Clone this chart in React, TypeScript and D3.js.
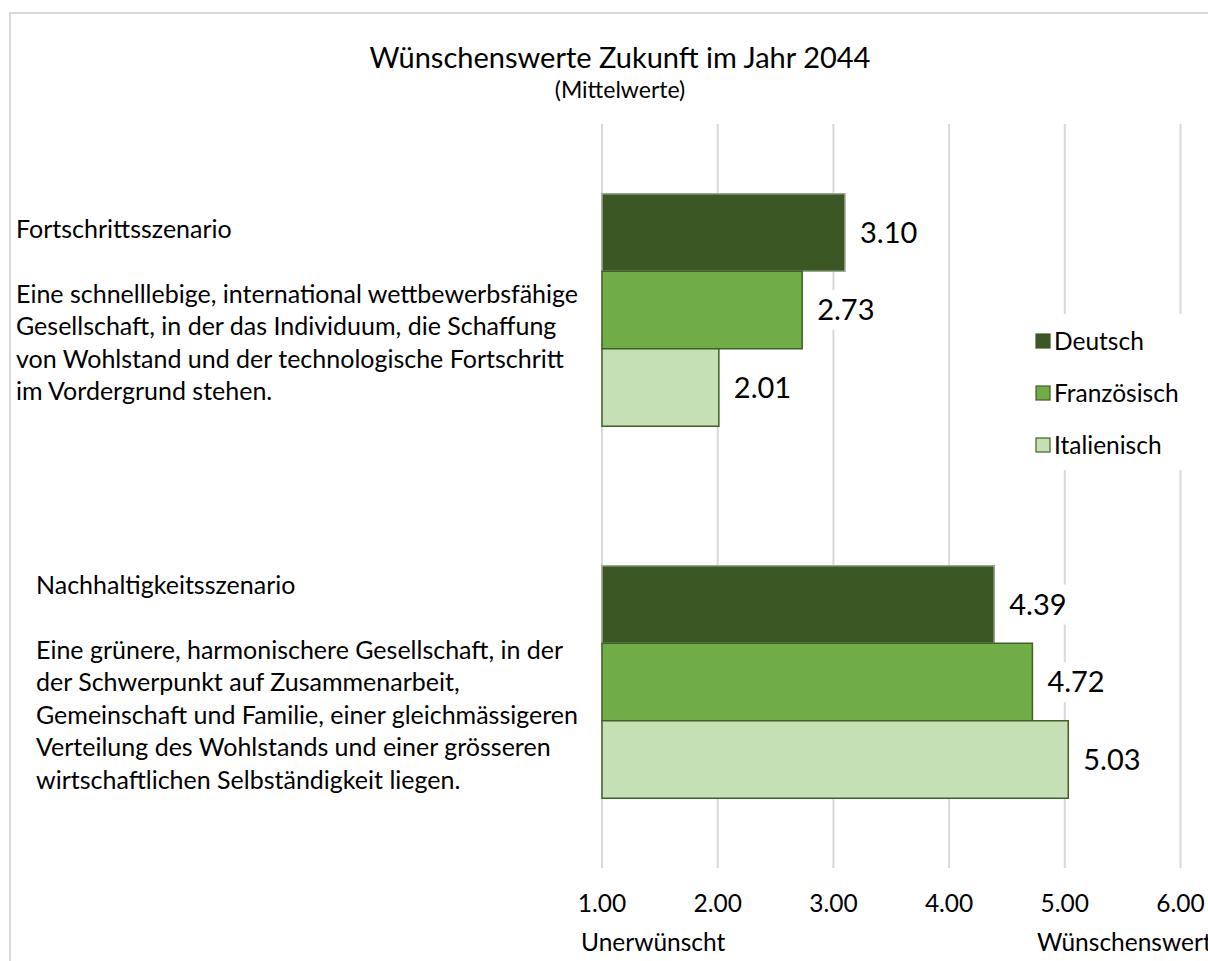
import React from "react";
import * as d3 from "d3";

const categories = ["Fortschrittsszenario", "Nachhaltigkeitsszenario"];
const series = ["Deutsch", "Französisch", "Italienisch"];
const deutsch = [3.1, 4.39];
const franzoesisch = [2.73, 4.72];
const italienisch = [2.01, 5.03];
const seriesValues = [deutsch, franzoesisch, italienisch];
const ticks = [1, 2, 3, 4, 5, 6];
const descriptions = [
  [
    "Eine schnelllebige, international wettbewerbsfähige",
    "Gesellschaft, in der das Individuum, die Schaffung",
    "von Wohlstand und der technologische Fortschritt",
    "im Vordergrund stehen.",
  ],
  [
    "Eine grünere, harmonischere Gesellschaft, in der",
    "der Schwerpunkt auf Zusammenarbeit,",
    "Gemeinschaft und Familie, einer gleichmässigeren",
    "Verteilung des Wohlstands und einer grösseren",
    "wirtschaftlichen Selbständigkeit liegen.",
  ],
];
const title = "Wünschenswerte Zukunft im Jahr 2044";
const subtitle = "(Mittelwerte)";
const lowLabel = "Unerwünscht";
const highLabel = "Wünschenswert";

const fills = ["#3a5724", "#70ad47", "#c5e0b4"];
const strokes = ["#9aa88f", "#3f6128", "#3f6128"];
const legendStrokes = ["#3a5724", "#3f6128", "#3f6128"];
const FONT = "Lato, 'Open Sans', sans-serif";

export default function App() {
  const W = 1208;
  const H = 961;
  const x = d3.scaleLinear().domain([1, 6]).range([602, 1180.5]);
  const y = d3
    .scaleBand<string>()
    .domain(categories)
    .range([124, 868])
    .paddingInner(0.375)
    .paddingOuter(0.1875);
  const ys = d3.scaleBand<string>().domain(series).range([0, y.bandwidth()]);
  const lineH = 32.5;
  const textX = [16, 36];

  return (
    <svg width={W} height={H} style={{ display: "block", position: "absolute", left: 0, top: 0 }}>
      <rect x={0} y={0} width={W} height={H} fill="#fff" />
      <rect x={10} y={13} width={1260} height={1000} fill="#fff" stroke="#d9d9d9" strokeWidth={2} />
      <text x={620} y={68} textAnchor="middle" fontFamily={FONT} fontSize={29} fill="#000">
        {title}
      </text>
      <text x={620} y={98} textAnchor="middle" fontFamily={FONT} fontSize={23} fill="#000">
        {subtitle}
      </text>
      {ticks.map((t) => (
        <line key={t} x1={x(t)} x2={x(t)} y1={124} y2={868} stroke="#d9d9d9" strokeWidth={2} />
      ))}
      {categories.map((c, ci) =>
        series.map((s, si) => {
          const v = seriesValues[si][ci];
          const by = (y(c) as number) + (ys(s) as number);
          return (
            <rect
              key={c + s}
              x={x(1)}
              y={by}
              width={x(v) - x(1)}
              height={ys.bandwidth()}
              fill={fills[si]}
              stroke={strokes[si]}
              strokeWidth={1.5}
            />
          );
        })
      )}
      {categories.map((c, ci) =>
        series.map((s, si) => {
          const v = seriesValues[si][ci];
          const cy = (y(c) as number) + (ys(s) as number) + ys.bandwidth() / 2;
          const lx = x(v) + 15;
          return (
            <g key={"l" + c + s}>
              <rect x={lx - 4} y={cy - 20} width={66} height={40} fill="#fff" />
              <text x={lx} y={cy + 10} fontFamily={FONT} fontSize={29} fill="#000">
                {v.toFixed(2)}
              </text>
            </g>
          );
        })
      )}
      {categories.map((c, ci) => {
        const lines = [c, "", ...descriptions[ci]];
        const center = (y(c) as number) + y.bandwidth() / 2;
        const first = center - ((lines.length - 1) * lineH) / 2;
        return lines.map((ln, li) => (
          <text
            key={c + li}
            x={textX[ci]}
            y={first + li * lineH + 9}
            fontFamily={FONT}
            fontSize={25}
            fill="#000"
          >
            {ln}
          </text>
        ));
      })}
      <rect x={1028} y={314} width={190} height={156} fill="#fff" />
      {series.map((s, si) => (
        <g key={"lg" + s} transform={`translate(1036, ${341 + si * 52})`}>
          <rect x={0} y={-7} width={14} height={14} fill={fills[si]} stroke={legendStrokes[si]} strokeWidth={1.2} />
          <text x={18} y={9} fontFamily={FONT} fontSize={24.5} fill="#000">
            {s}
          </text>
        </g>
      ))}
      {ticks.map((t) => (
        <text key={"t" + t} x={x(t)} y={912} textAnchor="middle" fontFamily={FONT} fontSize={24.5} fill="#000">
          {t.toFixed(2)}
        </text>
      ))}
      <text x={581} y={951} fontFamily={FONT} fontSize={24.5} fill="#000">
        {lowLabel}
      </text>
      <text x={1037} y={951} fontFamily={FONT} fontSize={24.5} fill="#000">
        {highLabel}
      </text>
    </svg>
  );
}
